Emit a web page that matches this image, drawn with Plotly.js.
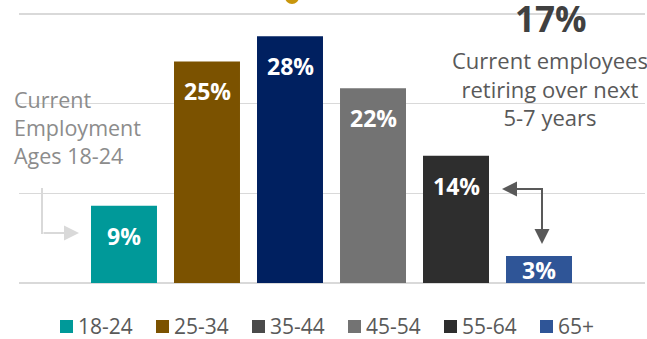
<!DOCTYPE html>
<html>
<head>
<meta charset="utf-8">
<script src="https://cdn.plot.ly/plotly-3.0.1.min.js"></script>
<style>html,body{margin:0;padding:0;background:#fff;}#chart{width:647px;height:339px;}</style>
</head>
<body>
<div id="chart"></div>
<script>
// ---- data ----
const categories = ['18-24', '25-34', '35-44', '45-54', '55-64', '65+'];
const values = [8.6, 24.7, 27.5, 21.7, 14.2, 3.0];
const valueLabels = ['9%', '25%', '28%', '22%', '14%', '3%'];
const barColors = ['#009999', '#7b5200', '#002060', '#737373', '#2e2e2e', '#2f5597'];
const legendColors = ['#009999', '#7b5200', '#4a4a4a', '#737373', '#2e2e2e', '#2f5597'];
const leftNote = ['Current', 'Employment', 'Ages 18-24'];
const rightValue = '17%';
const rightNote = ['Current employees', 'retiring over next', '5-7 years'];

// ---- geometry (pixels) ----
const W = 647, H = 339;
const M = {l: 19, r: 2, t: 9, b: 56};
const plotW = W - M.l - M.r, plotH = H - M.t - M.b;
const xRange = [-1.265, 6.277];
const yRange = [0, 30.55];
const pxPerUnit = plotH / (yRange[1] - yRange[0]);
const px2x = px => xRange[0] + (px - M.l) / plotW * (xRange[1] - xRange[0]);
const py2y = py => yRange[0] + (H - M.b - py) / plotH * (yRange[1] - yRange[0]);
const px2p = px => (px - M.l) / plotW;
const py2p = py => (H - M.b - py) / plotH;

const FONT = '"Open Sans", "Noto Sans", sans-serif';

const trace = {
  type: 'bar',
  x: categories,
  y: values,
  width: 0.795,
  marker: {color: barColors, line: {width: 0}},
  hoverinfo: 'none',
  showlegend: false
};

const annotations = [];
// bar value labels
categories.forEach((c, i) => {
  const hpx = values[i] * pxPerUnit;
  annotations.push({
    x: c, y: values[i], xref: 'x', yref: 'y',
    text: '<b>' + valueLabels[i] + '</b>', showarrow: false,
    xanchor: 'center', yanchor: 'middle',
    yshift: -Math.min(30, hpx / 2),
    font: {family: FONT, size: 23, color: '#ffffff'}
  });
});
// left note
annotations.push({
  xref: 'paper', yref: 'paper', x: px2p(12), y: py2p(128),
  xanchor: 'left', yanchor: 'middle', align: 'left', showarrow: false,
  text: leftNote.join('<br>'),
  font: {family: FONT, size: 21.5, color: '#8c8c8c'}
});
// right callout
annotations.push({
  xref: 'paper', yref: 'paper', x: px2p(551), y: py2p(17.5),
  xanchor: 'center', yanchor: 'middle', showarrow: false,
  height: 32, borderpad: 0, valign: 'middle',
  text: '<b>' + rightValue + '</b>',
  font: {family: FONT, size: 35, color: '#404040'}
});
annotations.push({
  xref: 'paper', yref: 'paper', x: px2p(550), y: py2p(88),
  xanchor: 'center', yanchor: 'middle', align: 'center', showarrow: false,
  text: rightNote.join('<br>'),
  font: {family: FONT, size: 22, color: '#595959'}
});
// arrows
annotations.push({
  xref: 'x', yref: 'y', axref: 'x', ayref: 'y',
  x: px2x(79), y: py2y(233), ax: px2x(42), ay: py2y(233),
  text: '', showarrow: true, arrowhead: 2, arrowsize: 1.5, arrowwidth: 2, arrowcolor: '#d9d9d9'
});
annotations.push({
  xref: 'x', yref: 'y', axref: 'x', ayref: 'y',
  x: px2x(502), y: py2y(189), ax: px2x(542), ay: py2y(189),
  text: '', showarrow: true, arrowhead: 2, arrowsize: 1.5, arrowwidth: 2, arrowcolor: '#595959'
});
annotations.push({
  xref: 'x', yref: 'y', axref: 'x', ayref: 'y',
  x: px2x(542), y: py2y(244), ax: px2x(542), ay: py2y(189),
  text: '', showarrow: true, arrowhead: 2, arrowsize: 1.5, arrowwidth: 2, arrowcolor: '#595959'
});

const shapes = [
  {type: 'line', xref: 'x', yref: 'y', x0: px2x(42), x1: px2x(42), y0: py2y(188), y1: py2y(234),
   line: {color: '#d9d9d9', width: 2}},
  {type: 'line', xref: 'x', yref: 'y', x0: px2x(542), x1: px2x(542), y0: py2y(188), y1: py2y(200),
   line: {color: '#595959', width: 2}},
  {type: 'line', xref: 'x', yref: 'y', x0: px2x(530), x1: px2x(543), y0: py2y(189), y1: py2y(189),
   line: {color: '#595959', width: 2}},
  // gold mark peeking in from the cropped title
  {type: 'circle', xref: 'paper', yref: 'paper', x0: px2p(285), x1: px2p(299), y0: py2p(-10), y1: py2p(4),
   fillcolor: '#c8960c', line: {width: 0}}
];

// custom legend
categories.forEach((c, i) => {
  const left = 60 + 96 * i;
  shapes.push({type: 'rect', xref: 'paper', yref: 'paper',
    x0: px2p(left), x1: px2p(left + 13), y0: py2p(333), y1: py2p(320),
    fillcolor: legendColors[i], line: {width: 0}});
  annotations.push({
    xref: 'paper', yref: 'paper', x: px2p(left + 17), y: py2p(326),
    xanchor: 'left', yanchor: 'middle', showarrow: false, text: c,
    height: 22, borderpad: 0, valign: 'middle',
    font: {family: FONT, size: 21, color: '#595959'}
  });
});

const layout = {
  width: W, height: H,
  margin: M,
  paper_bgcolor: '#ffffff', plot_bgcolor: '#ffffff',
  showlegend: false,
  xaxis: {type: 'category', range: xRange, showticklabels: false, showgrid: false, zeroline: false,
          ticks: '', showline: false, fixedrange: true},
  yaxis: {range: yRange, tick0: 0, dtick: 10, showgrid: true, gridcolor: '#d9d9d9', gridwidth: 1.5,
          zeroline: true, zerolinecolor: '#d9d9d9', zerolinewidth: 1.5,
          showticklabels: false, ticks: '', showline: false, fixedrange: true},
  annotations: annotations,
  shapes: shapes
};

Plotly.newPlot('chart', [trace], layout, {staticPlot: true, displayModeBar: false});
</script>
</body>
</html>
